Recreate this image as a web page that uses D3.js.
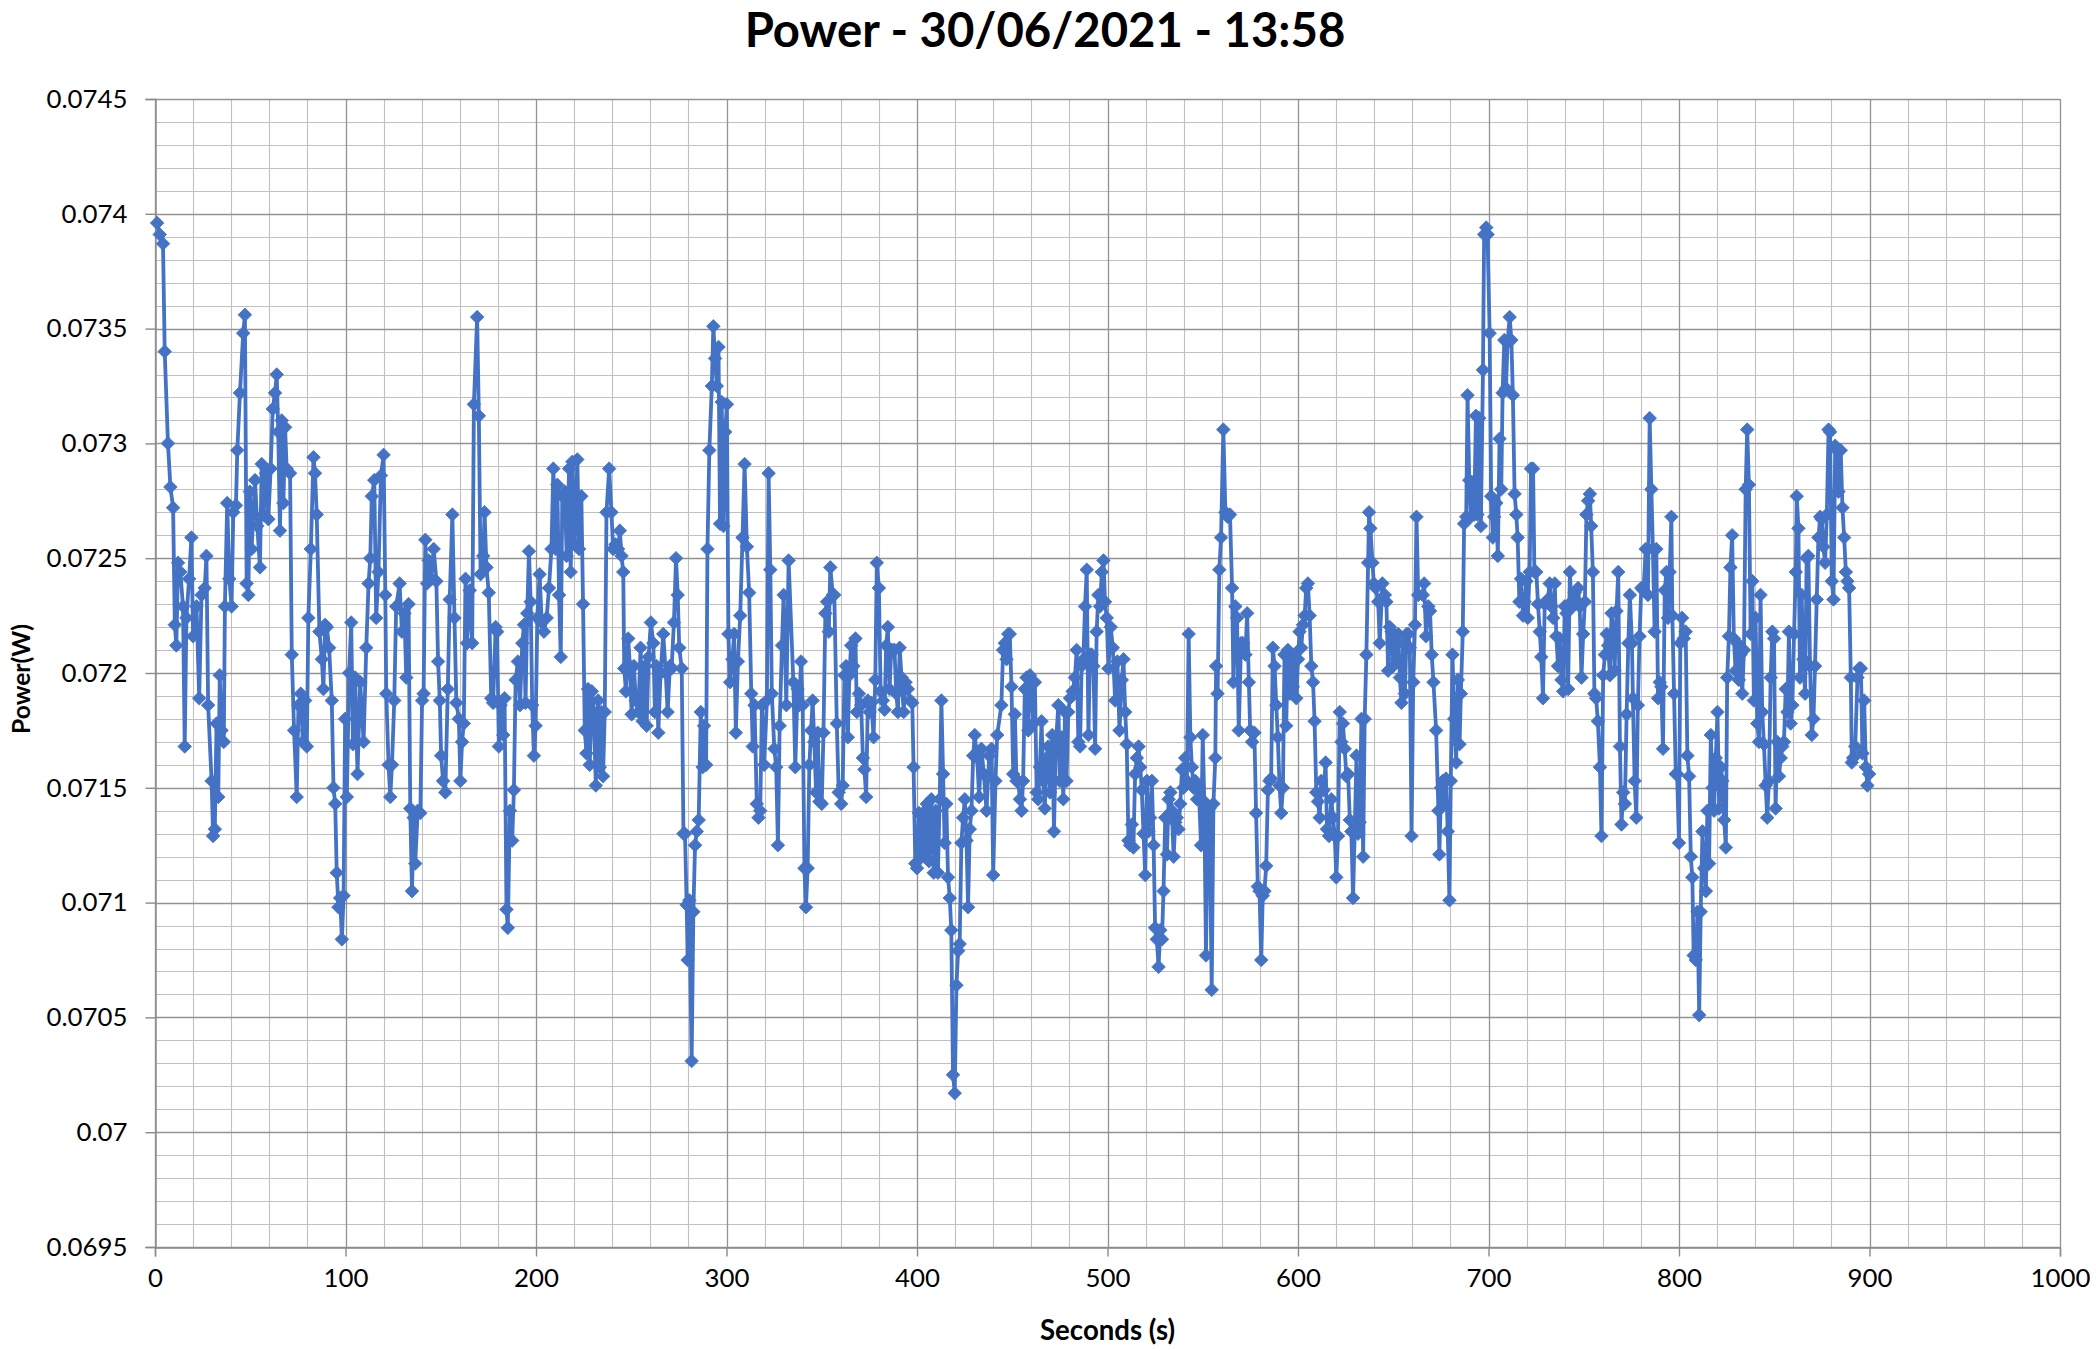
<!DOCTYPE html>
<html>
<head>
<meta charset="utf-8">
<script src="https://cdn.jsdelivr.net/npm/d3@7"></script>
<style>
  html, body { margin: 0; padding: 0; background: #ffffff; }
  svg { display: block; }
  text { font-family: Lato, "Noto Sans", sans-serif; fill: #000; }
</style>
</head>
<body>
<svg id="chart" width="2096" height="1351"></svg>
<script>
// ---------------- DATA ----------------
const chartTitle = "Power - 30/06/2021 - 13:58";
const xTitle = "Seconds (s)";
const yTitle = "Power(W)";
const xTickValues = [0, 100, 200, 300, 400, 500, 600, 700, 800, 900, 1000];
const xTickLabels = ["0", "100", "200", "300", "400", "500", "600", "700", "800", "900", "1000"];
const yTickValues = [0.0695, 0.07, 0.0705, 0.071, 0.0715, 0.072, 0.0725, 0.073, 0.0735, 0.074, 0.0745];
const yTickLabels = ["0.0695", "0.07", "0.0705", "0.071", "0.0715", "0.072", "0.0725", "0.073", "0.0735", "0.074", "0.0745"];

const seconds = [
1.1,2.5,4.2,5.1,6.8,8.1,9.5,10.4,11.2,12.1,13.3,14.7,15.6,16.5,17.9,19.1,20.0,21.8,23.2,24.4,26.1,27.0,27.9,29.7,30.5,31.4,32.3,33.2,34.0,34.9,36.1,36.7,37.9,39.0,40.2,41.1,42.5,43.2,44.6,46.3,47.2,48.1,49.0,49.8,50.7,52.5,53.7,55.1,56.0,56.9,58.3,59.5,60.7,61.8,63.0,63.9,64.7,65.6,66.5,67.4,68.3,69.1,70.9,71.8,73.0,74.4,75.3,76.5,77.6,78.8,79.7,80.5,81.8,83.2,84.0,84.9,86.3,87.6,88.4,89.3,90.2,91.4,92.8,93.7,94.6,95.4,96.3,97.2,98.1,99.0,99.8,100.7,101.9,103.0,103.9,105.1,106.3,107.7,109.5,110.9,112.1,
113.0,113.8,115.1,116.1,117.3,118.6,120.0,120.9,121.4,122.6,123.5,124.4,125.6,126.6,128.4,129.6,130.9,131.9,133.1,134.0,134.9,135.8,136.6,137.9,139.3,140.2,141.0,141.9,142.8,143.7,144.9,146.3,147.7,148.6,149.5,150.2,151.2,152.4,153.7,154.7,156.1,157.2,158.2,159.5,160.3,161.2,162.1,163.0,163.8,165.2,166.5,167.4,169.1,170.0,170.9,172.3,173.0,174.0,175.2,176.5,177.5,178.8,179.6,180.5,181.4,182.8,183.5,184.5,185.2,186.3,187.5,188.4,189.3,190.5,191.6,192.8,193.7,194.5,195.4,196.3,197.2,198.0,198.9,199.8,200.7,201.9,203.0,204.2,205.6,206.8,208.1,209.1,210.3,211.2,212.1,213.0,213.8,215.1,216.1,217.4,218.2,219.1,220.3,221.7,
222.6,223.8,224.7,225.6,226.5,227.3,228.2,229.3,230.3,231.4,232.6,233.5,234.4,235.2,236.1,237.0,238.4,239.6,240.5,241.7,243.1,244.0,244.9,245.8,246.3,247.2,248.4,249.3,250.2,251.4,252.4,253.7,254.9,256.0,257.2,258.1,259.1,260.3,261.6,262.4,263.3,264.2,265.4,266.8,268.1,269.1,270.3,271.2,272.4,273.5,274.4,275.2,276.5,277.4,278.2,279.1,279.6,280.5,281.7,282.6,283.5,284.4,285.4,286.5,287.5,288.2,289.3,290.0,291.0,292.3,293.1,294.0,294.9,295.8,296.6,297.5,298.4,299.3,300.2,301.0,301.9,303.1,304.0,304.9,306.0,307.2,308.4,309.5,310.7,311.9,313.0,313.8,314.7,315.9,316.8,317.7,318.6,319.8,321.2,322.1,323.0,323.8,325.1,326.1,327.0,327.9,329.1,330.0,331.4,332.6,
335.1,336.1,337.3,338.2,339.1,340.0,340.9,341.7,342.6,343.5,344.4,345.2,346.1,347.0,347.9,348.8,350.0,350.9,351.9,352.8,353.7,354.5,355.8,356.6,357.9,358.9,360.2,361.0,361.9,362.8,363.7,364.5,365.4,366.6,367.7,368.4,369.5,370.7,371.6,372.4,373.3,374.2,375.1,376.0,377.2,378.1,378.9,380.0,380.9,382.1,383.0,383.8,384.7,385.6,386.5,387.4,388.2,389.1,390.0,390.9,391.9,393.0,394.0,395.2,396.5,397.5,398.2,399.1,400.0,401.0,402.3,403.1,404.0,405.2,406.3,407.5,408.8,409.8,411.0,411.9,412.8,413.7,414.5,415.4,416.3,417.2,418.0,418.9,419.8,420.7,421.6,422.4,423.3,424.2,425.1,426.0,426.8,427.7,428.6,429.5,430.3,431.6,432.6,433.8,435.1,436.5,437.9,439.1,440.0,441.2,442.1,
444.3,445.2,446.1,447.0,447.9,448.7,449.6,450.5,451.4,452.2,453.1,454.0,454.9,455.7,456.6,457.5,458.4,459.3,460.1,461.0,461.9,462.8,463.6,464.5,465.4,466.3,467.1,468.0,468.9,469.8,471.0,471.9,472.9,474.2,475.0,475.9,476.8,477.7,478.5,479.4,480.3,481.7,482.9,483.8,484.7,485.6,486.4,487.3,488.2,489.1,490.0,490.8,491.7,492.6,493.5,494.3,495.2,496.1,497.0,497.9,498.7,499.6,500.5,501.7,502.8,504.0,505.2,506.3,507.5,508.4,509.3,510.1,511.0,511.9,512.8,513.6,514.5,515.4,516.3,517.2,518.0,518.9,519.8,520.7,521.5,522.4,523.3,524.2,525.0,525.9,526.8,527.7,528.6,529.4,530.3,531.2,532.1,533.0,533.8,534.7,535.6,536.4,537.3,538.2,539.1,539.9,540.8,541.7,542.6,543.5,544.3,545.2,546.1,547.0,547.9,
549.1,550.0,550.8,551.7,552.6,553.5,554.7,555.6,556.6,557.0,557.8,558.7,559.6,560.8,561.9,563.1,564.3,565.4,566.1,567.1,568.0,568.9,570.1,571.0,572.4,573.3,574.2,574.9,575.9,577.1,578.0,578.9,579.8,580.7,581.5,582.4,583.3,584.2,585.0,585.9,586.8,587.7,588.6,589.4,590.3,591.2,592.1,592.9,593.8,594.7,595.6,596.4,597.3,598.2,599.1,600.0,600.8,601.7,602.6,603.5,604.3,605.2,606.1,607.0,607.9,608.7,609.6,610.5,611.4,612.2,613.5,614.5,615.2,616.3,617.5,618.4,619.3,620.1,621.0,621.9,622.8,623.6,624.5,625.4,626.3,627.2,628.0,628.9,629.8,630.7,631.5,632.4,633.3,634.2,635.0,635.9,636.8,637.3,638.0,639.1,639.8,640.8,642.1,642.9,644.3,645.6,646.4,647.3,648.2,649.1,649.9,650.8,651.7,652.6,653.5,654.3,655.2,656.1,657.0,657.9,658.7,659.6,660.5,661.4,662.2,663.1,
665.5,666.2,667.2,668.4,669.3,670.2,671.1,672.5,673.7,674.2,675.1,676.0,676.9,677.7,678.6,679.5,680.2,681.1,682.0,683.0,683.9,684.8,685.5,686.5,687.2,688.3,689.0,689.9,690.7,691.6,692.5,693.4,694.2,695.1,696.0,697.1,697.7,698.8,699.5,700.6,701.4,702.3,703.0,704.1,704.9,705.8,706.7,707.4,708.3,709.2,710.0,711.1,712.0,712.8,713.7,714.6,715.3,716.2,717.1,718.1,719.0,719.9,720.6,721.6,722.3,723.4,724.1,725.1,726.0,726.9,727.7,728.6,729.5,730.4,731.1,732.1,733.0,733.9,734.8,735.6,736.5,737.4,738.3,739.2,740.0,740.9,741.8,742.7,743.5,744.4,745.3,746.2,747.0,747.9,748.8,749.7,750.6,751.4,752.3,753.2,753.9,754.8,755.6,756.5,757.4,758.5,759.3,760.2,761.1,762.0,762.8,763.7,764.6,765.5,766.2,767.2,768.1,769.0,769.8,770.7,771.6,772.5,773.4,774.2,
775.3,775.8,776.7,777.6,778.4,779.3,780.2,781.4,782.5,783.7,784.6,785.5,786.3,787.2,788.1,789.0,789.9,790.7,791.6,792.5,793.4,794.2,795.1,796.0,796.5,797.4,798.3,799.0,800.0,800.7,801.6,802.5,803.5,804.4,805.3,806.2,807.0,807.7,808.8,809.7,810.6,811.4,812.3,813.2,814.1,814.9,815.8,816.7,817.6,818.4,819.3,820.2,821.1,822.0,822.8,823.7,824.6,825.3,826.2,827.0,827.9,828.8,829.7,830.6,831.4,832.3,833.2,834.1,835.0,835.8,836.7,837.6,838.5,839.3,840.2,841.1,842.0,842.8,843.7,844.6,845.5,846.3,847.2,848.1,849.0,849.9,850.7,851.6,852.5,853.4,854.2,855.1,856.0,856.9,857.7,858.6,859.5,860.4,861.3,861.8,862.7,863.5,864.4,865.3,866.2,867.0,867.9,868.8,869.7,870.6,871.4,872.3,873.2,874.1,874.9,875.8,876.7,877.6,878.5,879.3,880.2,881.1,882.0,882.8,883.7,
884.9,885.8,886.7,887.6,888.4,889.3,890.2,890.7,891.4,892.5,893.7,894.6,895.5,896.3,897.2,898.1,898.9,899.8
];

const power = [
0.07396,0.07391,0.07387,0.0734,0.0730,0.07281,0.07272,0.07221,0.07212,0.07248,0.07244,0.07229,0.07168,0.07224,0.07241,0.07259,0.07216,0.07229,0.07189,0.07234,0.07237,0.07251,0.07186,0.07153,0.07129,0.07132,0.07178,0.07146,0.07199,0.07175,0.0717,0.07229,0.07274,0.07241,0.07229,0.0727,0.07273,0.07297,0.07322,0.07348,0.07356,0.07239,0.07234,0.07279,0.07254,0.07284,0.07264,0.07246,0.07291,0.07269,0.07287,0.07267,0.07289,0.07315,0.07322,0.0733,0.07305,0.07262,0.0731,0.07274,0.07307,0.07289,0.07287,0.07208,0.07175,0.07146,0.07186,0.07191,0.0717,0.07188,0.07168,0.07224,0.07254,0.07294,0.07287,0.07269,0.07218,0.07206,0.07193,0.07221,0.0722,0.07211,0.07188,0.0715,0.07143,0.07113,0.07098,0.07102,0.07084,0.07103,0.0718,0.07146,0.072,0.07222,0.07169,0.07198,0.07156,0.07196,0.0717,0.07211,0.07239,
0.0725,0.07277,0.07284,0.07224,0.07244,0.07286,0.07295,0.07234,0.07191,0.0716,0.07146,0.0716,0.07188,0.07229,0.07239,0.07218,0.07226,0.07198,0.0723,0.07141,0.07105,0.07137,0.07117,0.0714,0.07139,0.07188,0.07191,0.07258,0.07239,0.07249,0.07241,0.07254,0.0724,0.07205,0.07188,0.07164,0.07153,0.07148,0.07193,0.07232,0.07269,0.07224,0.07187,0.0718,0.07153,0.0717,0.07178,0.07241,0.07213,0.07236,0.07213,0.07317,0.07355,0.07312,0.07243,0.07251,0.0727,0.07246,0.07235,0.07189,0.07187,0.0722,0.07218,0.07168,0.07186,0.07173,0.07189,0.07097,0.07089,0.0714,0.07127,0.07149,0.07197,0.07205,0.07186,0.07213,0.07221,0.07187,0.07226,0.07253,0.07231,0.07186,0.07164,0.07177,0.07224,0.07243,0.07222,0.07218,0.07224,0.07237,0.07254,0.07289,0.07254,0.07282,0.07234,0.07207,0.07277,0.07279,0.07251,0.07289,0.07244,0.07292,0.07256,0.07293,
0.07254,0.07277,0.0723,0.07175,0.07165,0.07193,0.0716,0.07192,0.07183,0.07151,0.07188,0.07159,0.07183,0.07155,0.07183,0.0727,0.07289,0.0727,0.07254,0.07256,0.07254,0.07262,0.07251,0.07244,0.07202,0.07192,0.07215,0.07203,0.07182,0.07203,0.07188,0.07183,0.07211,0.07179,0.07203,0.07177,0.07207,0.07222,0.07213,0.07183,0.07203,0.07174,0.072,0.07217,0.072,0.07183,0.07203,0.07202,0.07222,0.0725,0.07234,0.07211,0.07202,0.0713,0.0713,0.07099,0.07075,0.07101,0.07031,0.07096,0.07125,0.07131,0.07136,0.07183,0.07159,0.07177,0.0716,0.07254,0.07297,0.07325,0.07351,0.07337,0.07325,0.07342,0.07265,0.07318,0.07264,0.07305,0.07317,0.07217,0.07196,0.07206,0.07217,0.07174,0.07205,0.07225,0.07259,0.07291,0.07255,0.07235,0.07191,0.07168,0.07186,0.07143,0.07137,0.0714,0.07186,0.0716,0.07188,0.07287,0.07245,0.07191,0.07167,0.07159,0.07125,0.07177,0.07212,0.07234,0.07186,0.07249,
0.07196,0.07159,0.07193,0.07186,0.07205,0.07186,0.07115,0.07098,0.07115,0.0716,0.07175,0.07188,0.0717,0.07148,0.07174,0.07144,0.07143,0.07174,0.07226,0.07231,0.07218,0.07246,0.07234,0.07234,0.07178,0.07148,0.07143,0.07151,0.07199,0.07203,0.07172,0.07199,0.07212,0.07203,0.07215,0.07183,0.07191,0.07186,0.07163,0.07158,0.07146,0.07188,0.07183,0.07187,0.07172,0.07197,0.07248,0.07237,0.07192,0.07188,0.07184,0.07212,0.0722,0.07193,0.0721,0.0721,0.0721,0.07191,0.07183,0.07211,0.07198,0.07183,0.07196,0.07193,0.07188,0.07187,0.07159,0.07117,0.07115,0.07139,0.0712,0.07139,0.0712,0.07143,0.07118,0.07145,0.07113,0.0714,0.07113,0.07145,0.07188,0.07156,0.07126,0.07143,0.07111,0.07102,0.07088,0.07025,0.07017,0.07064,0.07079,0.07082,0.07126,0.07137,0.07145,0.07127,0.07098,0.07132,0.0714,0.07164,0.07173,0.07163,0.07146,0.07167,0.07156,0.0714,0.07164,0.07167,0.07112,0.07153,0.07173,
0.07186,0.0721,0.07213,0.07206,0.07217,0.07217,0.07194,0.07156,0.07182,0.07153,0.07153,0.07145,0.0714,0.07153,0.07193,0.07198,0.07175,0.07199,0.07196,0.07178,0.07196,0.07148,0.07145,0.07159,0.07179,0.07153,0.07141,0.07163,0.07168,0.07148,0.07173,0.07131,0.07169,0.07186,0.07153,0.07172,0.07145,0.07183,0.07153,0.07183,0.07189,0.07192,0.07198,0.0721,0.0717,0.07168,0.07203,0.07206,0.07229,0.07245,0.07173,0.07208,0.07208,0.07203,0.07167,0.07218,0.07234,0.07229,0.07244,0.07249,0.07231,0.07224,0.07202,0.0722,0.07211,0.07188,0.07205,0.07175,0.07197,0.07206,0.07183,0.07169,0.07127,0.07125,0.07134,0.07124,0.07156,0.07163,0.07168,0.07159,0.07149,0.0713,0.07112,0.07153,0.07131,0.07137,0.07153,0.07125,0.07089,0.07084,0.07072,0.07088,0.07084,0.07105,0.07137,0.07121,0.07145,0.07148,0.0714,0.0712,0.07135,0.07137,0.07132,0.07143,0.07158,0.0715,0.07163,0.07153,0.07217,0.07172,0.07159,0.0715,0.07153,0.07145,0.0715,
0.07125,0.07173,0.07144,0.07077,0.07141,0.07141,0.07062,0.07143,0.07163,0.07203,0.07191,0.07245,0.07259,0.07306,0.0727,0.07268,0.07269,0.07237,0.07196,0.07229,0.07224,0.07175,0.07213,0.07213,0.07208,0.07226,0.07196,0.07175,0.0717,0.07174,0.07139,0.07107,0.07105,0.07075,0.07103,0.07105,0.07116,0.07149,0.07153,0.07154,0.07211,0.07203,0.07186,0.07172,0.07151,0.07139,0.0715,0.07208,0.07177,0.0721,0.07191,0.07208,0.07194,0.07208,0.07189,0.07206,0.07218,0.07211,0.07221,0.07225,0.07237,0.07239,0.07225,0.07203,0.07196,0.07179,0.07148,0.07144,0.07137,0.07153,0.07149,0.07161,0.07132,0.07129,0.07145,0.07137,0.07129,0.07111,0.07129,0.07183,0.0717,0.07178,0.07167,0.07155,0.07156,0.07136,0.07131,0.07102,0.07132,0.07164,0.0713,0.07135,0.0718,0.0712,0.0718,0.07208,0.07248,0.0727,0.07263,0.07248,0.07239,0.07237,0.07231,0.07213,0.07239,0.07234,0.07231,0.07201,0.0722,0.07218,0.07203,0.07216,0.07206,0.07217,0.07198,0.07187,0.07213,0.07191,0.07217,0.07217,0.07211,0.07129,0.07196,0.07221,0.07268,0.07234,
0.07234,0.07239,0.07216,0.07229,0.07227,0.07208,0.07196,0.07175,0.0714,0.07121,0.0715,0.07153,0.07143,0.07154,0.07131,0.07101,0.07153,0.07208,0.0718,0.07161,0.07197,0.07169,0.07191,0.07218,0.07265,0.07268,0.07321,0.07284,0.07268,0.07283,0.07269,0.07312,0.07269,0.07311,0.07264,0.07332,0.07391,0.07394,0.07391,0.07348,0.07277,0.07259,0.07268,0.07274,0.07251,0.07302,0.0728,0.07322,0.07345,0.07324,0.07344,0.07355,0.07345,0.07321,0.07278,0.07269,0.07259,0.07231,0.07241,0.07225,0.07231,0.0724,0.07224,0.07244,0.07289,0.07289,0.07244,0.07244,0.0723,0.07218,0.07207,0.07189,0.0723,0.07231,0.07232,0.07239,0.07229,0.07224,0.07239,0.07216,0.07203,0.07215,0.07197,0.07192,0.07229,0.07226,0.07193,0.07244,0.07231,0.07229,0.07235,0.07231,0.07237,0.07229,0.07198,0.07217,0.07231,0.07269,0.07275,0.07278,0.07264,0.07244,0.07191,0.07189,0.07179,0.07159,0.07129,0.07199,0.07208,0.07217,0.07212,0.07199,0.07226,0.07218,0.07201,0.07227,0.07244,0.07168,0.07134,0.07148,0.07143,0.07182,0.07213,0.07234,
0.07213,0.07189,0.07153,0.07137,0.07186,0.07216,0.07237,0.07236,0.07254,0.07234,0.07311,0.0728,0.07254,0.07218,0.07254,0.07189,0.07196,0.07194,0.07167,0.07236,0.07244,0.07224,0.07244,0.07268,0.07225,0.07191,0.07156,0.07156,0.07126,0.07213,0.07224,0.07215,0.07218,0.07164,0.07155,0.0712,0.07111,0.07077,0.07075,0.07096,0.07051,0.07096,0.07131,0.07115,0.07105,0.0714,0.07117,0.07173,0.0715,0.0714,0.07163,0.07183,0.07141,0.07159,0.07153,0.07136,0.07124,0.07198,0.07216,0.07246,0.0726,0.07215,0.07201,0.07213,0.07197,0.07208,0.07191,0.0721,0.0728,0.07306,0.07282,0.07217,0.0724,0.07188,0.07224,0.07178,0.0717,0.07234,0.07183,0.07169,0.07151,0.07137,0.07153,0.07198,0.07218,0.07215,0.07141,0.0717,0.07155,0.07163,0.07168,0.0717,0.07193,0.07183,0.07218,0.07178,0.07186,0.07217,0.07244,0.07277,0.07263,0.07198,0.07234,0.07206,0.07191,0.0725,0.07251,0.07203,0.07173,0.0718,0.07203,0.07232,0.07259,0.07268,0.07267,0.07255,0.07248,0.07269,0.07306,0.07305,0.0724,0.07232,0.07299,0.07297,0.07279,
0.07297,0.07272,0.07259,0.07244,0.0724,0.07237,0.07198,0.07161,0.07163,0.07168,0.07198,0.07202,0.07202,0.07165,0.07188,0.07159,0.07151,0.07156
];

// ---------------- LAYOUT ----------------
const W = 2096, H = 1351;
const plot = { left: 155, right: 2060, top: 99, bottom: 1247 };
const lineColor = "#4472C4";

const svg = d3.select("#chart");
svg.append("rect").attr("width", W).attr("height", H).attr("fill", "#ffffff");

const x = d3.scaleLinear().domain([0, 1000]).range([plot.left, plot.right]);
const y = d3.scaleLinear().domain([0.0695, 0.0745]).range([plot.bottom, plot.top]);

// minor gridlines
const xMinor = d3.range(0, 1001, 20).filter(v => v % 100 !== 0);
const yMinor = d3.range(0, 51).map(i => 0.0695 + i * 0.0001).filter((v, i) => i % 5 !== 0);

const grid = svg.append("g");
grid.selectAll("line.xmin").data(xMinor).enter().append("line")
  .attr("x1", d => Math.round(x(d)) + 0.5).attr("x2", d => Math.round(x(d)) + 0.5)
  .attr("y1", plot.top).attr("y2", plot.bottom)
  .attr("stroke", "#c0c0c0").attr("stroke-width", 1.1);
grid.selectAll("line.ymin").data(yMinor).enter().append("line")
  .attr("y1", d => Math.round(y(d)) + 0.5).attr("y2", d => Math.round(y(d)) + 0.5)
  .attr("x1", plot.left).attr("x2", plot.right)
  .attr("stroke", "#c0c0c0").attr("stroke-width", 1.1);
// major gridlines
grid.selectAll("line.xmaj").data(xTickValues).enter().append("line")
  .attr("x1", d => Math.round(x(d)) + 0.5).attr("x2", d => Math.round(x(d)) + 0.5)
  .attr("y1", plot.top).attr("y2", plot.bottom)
  .attr("stroke", "#929292").attr("stroke-width", 1.3);
grid.selectAll("line.ymaj").data(yTickValues).enter().append("line")
  .attr("y1", d => Math.round(y(d)) + 0.5).attr("y2", d => Math.round(y(d)) + 0.5)
  .attr("x1", plot.left).attr("x2", plot.right)
  .attr("stroke", "#929292").attr("stroke-width", 1.3);

// axes
const xAxis = d3.axisBottom(x).tickValues(xTickValues).tickFormat((d, i) => xTickLabels[i])
  .tickSize(9).tickPadding(12);
const yAxis = d3.axisLeft(y).tickValues(yTickValues).tickFormat((d, i) => yTickLabels[i])
  .tickSize(10).tickPadding(18);

const gx = svg.append("g").attr("transform", `translate(0,${plot.bottom + 0.5})`).call(xAxis);
const gy = svg.append("g").attr("transform", `translate(${plot.left + 0.5},0)`).call(yAxis);
[gx, gy].forEach(g => {
  g.select(".domain").attr("stroke", "#8a8a8a").attr("stroke-width", 1.4);
  g.selectAll(".tick line").attr("stroke", "#8a8a8a").attr("stroke-width", 1.4);
  g.selectAll(".tick text").attr("font-family", "Lato, 'Noto Sans', sans-serif").attr("fill", "#000");
});

function fitSize(sample, targetWidth, weight) {
  const t = svg.append("text").attr("font-size", 100).attr("font-weight", weight || "normal").text(sample);
  const w = t.node().getComputedTextLength();
  t.remove();
  return 100 * targetWidth / w;
}
const tickFont = fitSize("0.0695", 81);
gx.selectAll(".tick text").attr("font-size", tickFont);
gy.selectAll(".tick text").attr("font-size", tickFont);

// series line
const pts = seconds.map((s, i) => [s, power[i]]);
const line = d3.line().x(d => x(d[0])).y(d => y(d[1]));
svg.append("path").datum(pts)
  .attr("d", line).attr("fill", "none")
  .attr("stroke", lineColor).attr("stroke-width", 3.8).attr("stroke-linejoin", "round");

// diamond markers
const r = 6.8;
const diamond = `M0,${-r}L${r},0L0,${r}L${-r},0Z`;
svg.append("g").selectAll("path").data(pts).enter().append("path")
  .attr("transform", d => `translate(${x(d[0])},${y(d[1])})`)
  .attr("d", diamond).attr("fill", lineColor).attr("stroke", lineColor).attr("stroke-width", 0.8);

// titles
const titleSize = fitSize(chartTitle, 601, "bold");
svg.append("text").attr("x", 1045).attr("y", 47).attr("text-anchor", "middle")
  .attr("font-weight", "bold").attr("font-size", titleSize).text(chartTitle);

const axisTitleSize = fitSize(xTitle, 135, "bold");
svg.append("text").attr("x", (plot.left + plot.right) / 2).attr("y", 1340).attr("text-anchor", "middle")
  .attr("font-weight", "bold").attr("font-size", axisTitleSize).text(xTitle);
const yTitleSize = fitSize(yTitle, 110, "bold");
svg.append("text").attr("transform", `translate(30,${(plot.top + plot.bottom) / 2 + 6}) rotate(-90)`)
  .attr("text-anchor", "middle").attr("font-weight", "bold").attr("font-size", yTitleSize).text(yTitle);
</script>
</body>
</html>
